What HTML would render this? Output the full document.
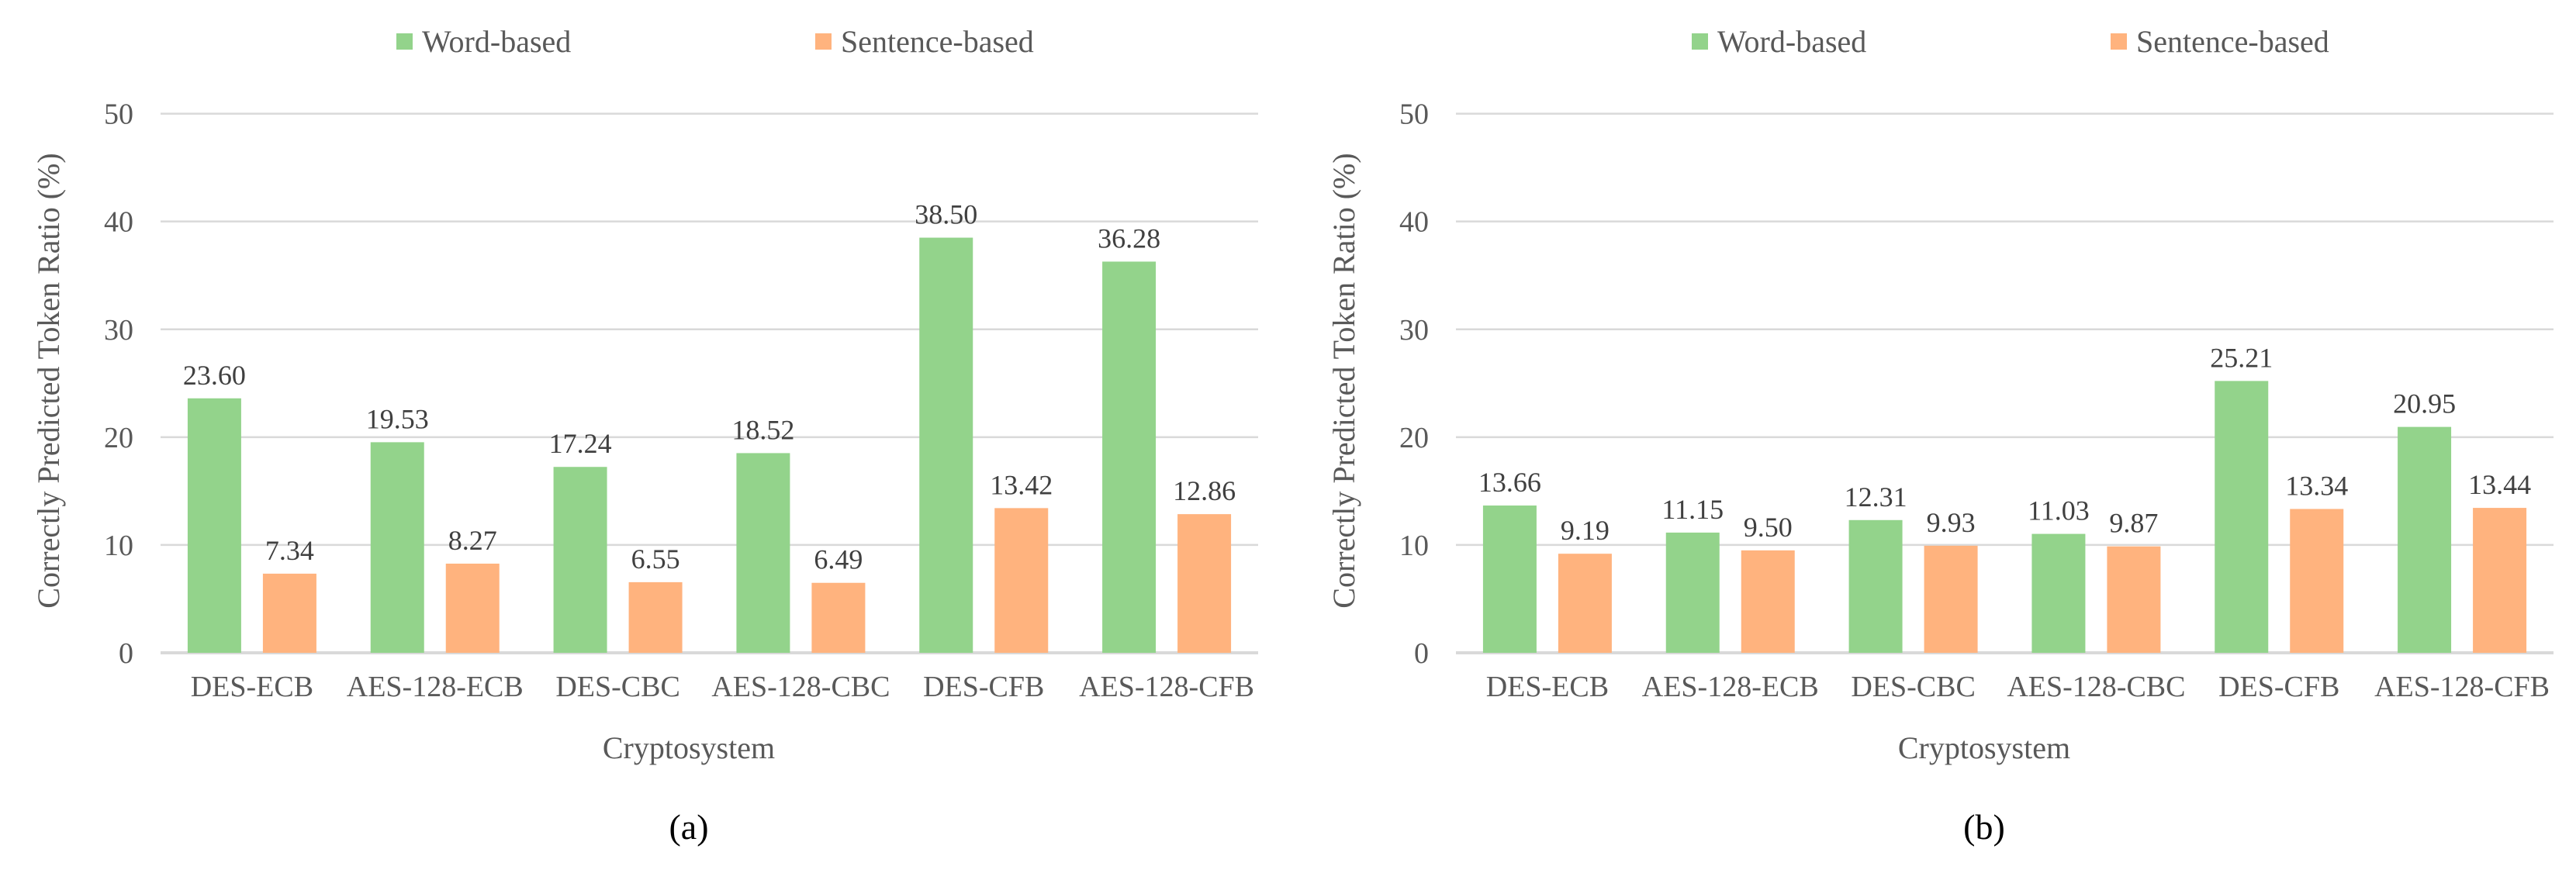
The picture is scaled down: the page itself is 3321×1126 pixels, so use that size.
<!DOCTYPE html>
<html><head><meta charset="utf-8">
<style>
html,body{margin:0;padding:0;background:#fff;}
svg{display:block;}
svg text{font-family:"Liberation Serif","Times New Roman","DejaVu Serif",serif;}
</style></head>
<body>
<svg id="fig" width="3321" height="1126" viewBox="0 0 3321 1126" font-family="Liberation Serif, Times New Roman, serif"></svg>
<script>
const categories = ["DES-ECB","AES-128-ECB","DES-CBC","AES-128-CBC","DES-CFB","AES-128-CFB"];
const wordA = [23.60,19.53,17.24,18.52,38.50,36.28];
const sentA = [7.34,8.27,6.55,6.49,13.42,12.86];
const wordB = [13.66,11.15,12.31,11.03,25.21,20.95];
const sentB = [9.19,9.50,9.93,9.87,13.34,13.44];
const yTicks = [0,10,20,30,40,50];
const seriesNames = ["Word-based","Sentence-based"];
const panelLabels = ["(a)","(b)"];

const NS="http://www.w3.org/2000/svg";
const svg=document.getElementById('fig');
const GREEN="#93d38b", ORANGE="#ffb37e", TXT="#595959";
const FF='"Liberation Serif", "Times New Roman", serif';
function mk(tag,attrs,parent){const e=document.createElementNS(NS,tag);for(const k in attrs)e.setAttribute(k,attrs[k]);if(tag==='text')e.setAttribute('font-family',FF);(parent||svg).appendChild(e);return e;}

function drawPanel(ox,word,sent,label,idx){
  const g=mk('g',{transform:`translate(${ox},0)`});
  
  
  const x0=207,x1=1622,y0=842,yTop=146.6;
  const yMax=50;
  const y=v=>y0-(v/yMax)*(y0-yTop);
  const cw=(x1-x0)/categories.length;
  const bw=69,gap=28;
  yTicks.forEach(t=>{
    const l=mk('line',{x1:x0,x2:x1,y1:y(t),y2:y(t),stroke:'#d9d9d9','stroke-width':t===0?4:2.5},g);
    
    
    const tx=mk('text',{x:172,y:y(t)+13,'text-anchor':'end','font-size':38,fill:TXT},g);
    tx.textContent=t;
    
    
  });
  categories.forEach((c,i)=>{
    const cx=x0+cw*(i+0.5);
    const gx=cx-gap/2-bw, sx=cx+gap/2;
    const r1=mk('rect',{x:gx,y:y(word[i]),width:bw,height:y0-y(word[i]),fill:GREEN},g);
    
    
    const r2=mk('rect',{x:sx,y:y(sent[i]),width:bw,height:y0-y(sent[i]),fill:ORANGE},g);
    
    
    const t1=mk('text',{x:gx+bw/2,y:y(word[i])-18,'text-anchor':'middle','font-size':36,fill:'#404040'},g);
    t1.textContent=word[i].toFixed(2);
    
    
    const t2=mk('text',{x:sx+bw/2,y:y(sent[i])-18,'text-anchor':'middle','font-size':36,fill:'#404040'},g);
    t2.textContent=sent[i].toFixed(2);
    
    
    const ct=mk('text',{x:cx,y:898,'text-anchor':'middle','font-size':38,fill:TXT},g);
    ct.textContent=c;
    
    
  });
  const xt=mk('text',{x:888,y:978,'text-anchor':'middle','font-size':40,fill:TXT},g);
  xt.textContent='Cryptosystem';
  
  
  const yt=mk('text',{x:0,y:0,'text-anchor':'middle','font-size':40,fill:TXT,transform:'translate(76,491) rotate(-90)'},g);
  yt.textContent='Correctly Predicted Token Ratio (%)';
  
  
  const pl=mk('text',{x:888,y:1082,'text-anchor':'middle','font-size':46,fill:'#000'},g);
  pl.textContent=label;
  
  
  const lg=mk('g',{},g);
  
  
  const items=[[511,GREEN,seriesNames[0]],[1051,ORANGE,seriesNames[1]]];
  items.forEach(([lx,col,name])=>{
    const sq=mk('rect',{x:lx,y:43,width:21,height:21,fill:col},lg);
    
    
    const lt=mk('text',{x:lx+33,y:67,'font-size':40,fill:TXT},lg);
    lt.textContent=name;
    
    
  });
}
drawPanel(0,wordA,sentA,panelLabels[0],0);
drawPanel(1670,wordB,sentB,panelLabels[1],1);
</script>
</body></html>
